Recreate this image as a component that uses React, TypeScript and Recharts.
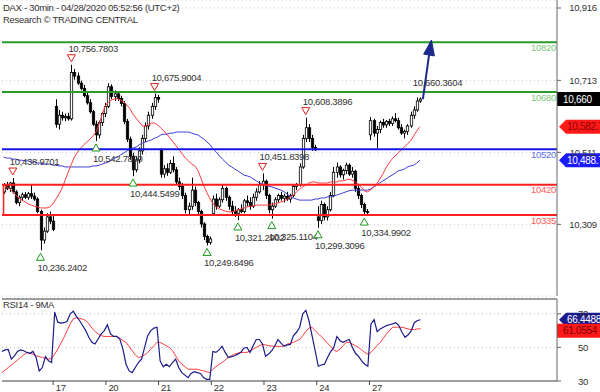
import {
  Bar,
  CartesianGrid,
  ComposedChart,
  Line,
  ReferenceDot,
  ReferenceLine,
  XAxis,
  YAxis,
} from 'recharts'

const FONT = '"Liberation Sans", Arial, sans-serif'
const CHART_W = 600
const AXIS_W = 43
const LEFT = 2
const SLOTS = 180
const BAND = (CHART_W - LEFT - AXIS_W) / SLOTS
const BARS_PER_DAY = 17

// sessions (17 half-hour bars each)
const dayLabels = ['16', '17', '20', '21', '22', '23', '24', '27']

const opens = [
  10400, 10418, 10410, 10425, 10400, 10370, 10385, 10392, 10385, 10395, 10388, 10380, 10345, 10265, 10290, 10330, 10318,
  10640, 10590, 10615, 10608, 10612, 10605, 10735, 10725, 10705, 10690, 10670, 10650, 10625, 10590, 10560, 10595, 10620,
  10640, 10695, 10668, 10675, 10662, 10648, 10598, 10548, 10500, 10462, 10490, 10515, 10550, 10585, 10615, 10640, 10665,
  10518, 10450, 10465, 10455, 10480, 10462, 10428, 10415, 10390, 10350, 10360, 10405, 10370, 10345, 10310, 10275, 10258,
  10340, 10380, 10360, 10378, 10410, 10385, 10360, 10345, 10340, 10350, 10345, 10375, 10370, 10360, 10385, 10400, 10420,
  10430, 10390, 10350, 10360, 10378, 10390, 10382, 10388, 10380, 10390, 10415, 10420, 10470, 10550, 10580, 10550, 10525,
  10330, 10320, 10365, 10330, 10350, 10390, 10455, 10470, 10448, 10460, 10475, 10450, 10458, 10410, 10390, 10365, 10345,
  10560, 10600, 10565, 10575, 10595, 10588, 10598, 10592, 10605, 10600, 10580, 10565, 10570, 10585, 10615, 10630, 10655,
]
const highs = [
  10425, 10428, 10428, 10438.97, 10405, 10390, 10398, 10400, 10400, 10420, 10398, 10385, 10350, 10300, 10340, 10345, 10335,
  10660, 10630, 10625, 10620, 10622, 10756.78, 10745, 10735, 10712, 10700, 10680, 10660, 10630, 10600, 10600, 10625, 10650,
  10705, 10702, 10685, 10680, 10670, 10655, 10605, 10555, 10510, 10500, 10525, 10560, 10595, 10625, 10650, 10675.9, 10672,
  10522, 10475, 10480, 10490, 10500, 10470, 10440, 10425, 10398, 10370, 10440, 10415, 10375, 10350, 10315, 10280, 10275,
  10390, 10395, 10385, 10420, 10415, 10390, 10375, 10360, 10355, 10365, 10380, 10390, 10385, 10395, 10410, 10430, 10451.84,
  10435, 10395, 10370, 10385, 10395, 10400, 10395, 10400, 10395, 10420, 10425, 10480, 10560, 10608.39, 10590, 10560, 10532,
  10360, 10375, 10370, 10360, 10400, 10470, 10482, 10475, 10465, 10482, 10480, 10470, 10462, 10420, 10395, 10370, 10352,
  10610, 10605, 10585, 10600, 10605, 10602, 10605, 10612, 10621, 10608, 10590, 10575, 10590, 10625, 10640, 10665, 10665,
]
const lows = [
  10395, 10405, 10400, 10395, 10365, 10360, 10375, 10380, 10378, 10380, 10375, 10340, 10236.24, 10255, 10285, 10310, 10290,
  10580, 10575, 10600, 10598, 10600, 10600, 10715, 10700, 10685, 10665, 10645, 10620, 10585, 10542.78, 10550, 10585, 10610,
  10635, 10660, 10655, 10655, 10640, 10590, 10540, 10490, 10444.55, 10455, 10480, 10505, 10540, 10575, 10605, 10630, 10650,
  10440, 10440, 10445, 10450, 10455, 10420, 10405, 10380, 10340, 10335, 10350, 10360, 10335, 10300, 10265, 10249.85, 10252,
  10335, 10350, 10355, 10370, 10375, 10350, 10335, 10330, 10321.29, 10340, 10340, 10360, 10350, 10355, 10375, 10395, 10405,
  10380, 10340, 10325.11, 10355, 10370, 10375, 10370, 10375, 10370, 10385, 10405, 10415, 10465, 10540, 10540, 10515, 10515,
  10299.31, 10310, 10320, 10320, 10345, 10385, 10440, 10440, 10435, 10450, 10445, 10440, 10400, 10380, 10355, 10334.99, 10338,
  10545, 10555, 10523, 10565, 10580, 10580, 10585, 10585, 10595, 10575, 10560, 10550, 10560, 10580, 10605, 10625, 10650,
]
const closes = [
  10418, 10410, 10425, 10400, 10370, 10385, 10392, 10385, 10395, 10388, 10380, 10345, 10265, 10290, 10330, 10318, 10295,
  10590, 10615, 10608, 10612, 10605, 10735, 10725, 10705, 10690, 10670, 10650, 10625, 10590, 10560, 10595, 10620, 10640,
  10695, 10668, 10675, 10662, 10648, 10598, 10548, 10500, 10462, 10490, 10515, 10550, 10585, 10615, 10640, 10665, 10660,
  10450, 10465, 10455, 10480, 10462, 10428, 10415, 10390, 10350, 10360, 10405, 10370, 10345, 10310, 10275, 10258, 10268,
  10380, 10360, 10378, 10410, 10385, 10360, 10345, 10340, 10350, 10345, 10375, 10370, 10360, 10385, 10400, 10420, 10430,
  10390, 10350, 10360, 10378, 10390, 10382, 10388, 10380, 10390, 10415, 10420, 10470, 10550, 10580, 10550, 10525, 10518,
  10320, 10365, 10330, 10350, 10390, 10455, 10470, 10448, 10460, 10475, 10450, 10458, 10410, 10390, 10365, 10345, 10342,
  10600, 10565, 10575, 10595, 10588, 10598, 10592, 10605, 10600, 10580, 10565, 10570, 10585, 10615, 10630, 10655, 10660.36,
]
// short moving average (red)
const maRed = [
  10419, 10414, 10408, 10400, 10391, 10383, 10377, 10372, 10366, 10363, 10360, 10358, 10355, 10355, 10355, 10358, 10366,
  10380, 10394, 10411, 10433, 10456, 10478, 10498, 10512, 10523, 10532, 10540, 10548, 10557, 10568, 10590, 10618, 10641,
  10652, 10658, 10661, 10661, 10658, 10652, 10644, 10633, 10618, 10607, 10596, 10585, 10585, 10590, 10593, 10593, 10588,
  10579, 10571, 10562, 10551, 10540, 10529, 10518, 10506, 10495, 10487, 10478, 10473, 10461, 10439, 10416, 10397, 10380,
  10366, 10358, 10352, 10349, 10346, 10344, 10344, 10346, 10349, 10352, 10355, 10358, 10360, 10360, 10363, 10363, 10363,
  10363, 10363, 10366, 10366, 10369, 10372, 10374, 10380, 10386, 10391, 10400, 10408, 10414, 10419, 10425, 10428, 10428,
  10425, 10425, 10425, 10425, 10428, 10428, 10428, 10431, 10431, 10433, 10436, 10433, 10428, 10422, 10414, 10403, 10400,
  10405, 10414, 10422, 10436, 10450, 10467, 10481, 10492, 10501, 10509, 10518, 10526, 10535, 10543, 10557, 10571, 10582.7,
]
// long moving average (blue)
const maBlue = [
  10498, 10495, 10495, 10492, 10492, 10489, 10489, 10487, 10487, 10484, 10484, 10481, 10481, 10478, 10478, 10478, 10475,
  10475, 10473, 10473, 10470, 10470, 10470, 10470, 10470, 10470, 10470, 10470, 10470, 10473, 10473, 10475, 10478, 10481,
  10484, 10489, 10495, 10498, 10504, 10509, 10515, 10520, 10523, 10526, 10532, 10537, 10540, 10543, 10546, 10551, 10554,
  10560, 10562, 10562, 10565, 10565, 10568, 10568, 10568, 10568, 10568, 10565, 10562, 10560, 10554, 10548, 10540, 10532,
  10520, 10512, 10501, 10492, 10484, 10475, 10470, 10464, 10459, 10453, 10447, 10445, 10442, 10436, 10431, 10425, 10422,
  10419, 10416, 10414, 10411, 10408, 10405, 10400, 10394, 10388, 10383, 10380, 10377, 10377, 10377, 10377, 10377, 10380,
  10380, 10383, 10383, 10386, 10386, 10388, 10391, 10394, 10397, 10400, 10403, 10405, 10405, 10405, 10405, 10405, 10405,
  10408, 10414, 10419, 10425, 10431, 10436, 10442, 10447, 10453, 10459, 10461, 10464, 10470, 10473, 10475, 10481, 10488.7,
]
const rsi14 = [
  47.5, 48.5, 48.8, 43, 45, 47.6, 48.5, 48, 47, 46.5, 47.6, 44, 36, 38, 44.5, 42, 41,
  71, 65, 64.5, 64.7, 65.5, 70, 71.5, 68.5, 66, 63, 60, 56, 53, 52, 55, 58, 60,
  63.5, 58, 56.5, 56.5, 55, 49, 40, 36, 35, 38, 41, 43, 50, 57, 60, 61.5, 62,
  42, 38.5, 40, 38.5, 41, 43, 38, 35, 33.5, 32, 34.5, 35.5, 35, 34.5, 32, 31, 31,
  47.6, 47, 48.5, 50.6, 47, 44, 44.5, 45, 46, 47, 49.5, 50, 47, 51, 54.7, 54.7, 52,
  44.7, 46, 48, 51, 54.7, 52.5, 50.6, 51.5, 51.8, 57, 59, 62, 70, 72, 66, 57, 48,
  38.8, 39.5, 40, 44, 47.5, 50, 56.5, 54, 53, 54, 54.7, 50, 46.5, 44.7, 42, 40, 38.8,
  64, 66.5, 59.4, 61, 62, 63, 63.5, 64, 64.7, 63, 59, 56, 57.5, 60, 64.7, 66, 66.4488,
]
const rsiMa9 = [
  35, 36.5, 38, 39.5, 41, 42.5, 44, 45.5, 47, 46.5, 46, 45, 44.5, 44, 43.5, 43, 43.5,
  46, 49, 52.5, 56, 60, 64, 67, 67.6, 67.3, 66.8, 66, 64, 61.5, 59.5, 58, 57, 56.5,
  56.5, 56.5, 56.5, 56.5, 55.5, 54, 53, 50.5, 48, 45.5, 44, 44.5, 45.5, 47, 49, 51, 53,
  53, 52, 51, 50, 48, 45, 42, 40, 38.5, 37, 37, 37, 37, 36.5, 36, 35.5, 35,
  37, 38.5, 40, 41, 42.5, 44, 45, 46, 46.5, 47, 47, 47, 48, 49, 50, 51, 51.8,
  51.5, 51, 50.8, 50.6, 50.6, 50.6, 51, 52, 52.5, 53, 54, 54.7, 57, 59.5, 61.5, 62, 60,
  58, 56.5, 54.5, 52.5, 50.6, 48.5, 47.6, 49, 51, 53, 53, 52, 51, 50, 48.5, 47, 46,
  47, 49, 51, 53, 55.5, 58, 60, 62, 62, 62, 62, 61.5, 61, 60.6, 60.6, 61, 61.0554,
]

const priceTicks = [10916, 10713, 10511, 10309]
const rsiTicks = [30, 50, 70]
const greenLevels = [10820, 10680]
const blueLevels = [10520]
const redLevels = [10420, 10335]

const peakIdx = [3, 22, 49, 84, 98]
const peakVal = [10438.9701, 10756.7803, 10675.9004, 10451.8398, 10608.3896]
const troughIdx = [12, 30, 42, 66, 76, 87, 102, 117]
const troughVal = [10236.2402, 10542.78, 10444.5499, 10249.8496, 10321.2902, 10325.1104, 10299.3096, 10334.9902]

const lastPrice = 10660.3604
const targetPrice = 10784

const n = closes.length
const rows = Array.from({ length: SLOTS }, (_, i) =>
  i < n
    ? {
        i,
        o: opens[i],
        h: highs[i],
        l: lows[i],
        c: closes[i],
        range: [lows[i], highs[i]],
        maRed: maRed[i],
        maBlue: maBlue[i],
        rsi: rsi14[i],
        rsiMa: rsiMa9[i],
      }
    : { i },
)
const dayStarts = dayLabels.slice(1).map((_, k) => (k + 1) * BARS_PER_DAY)

const fmt4 = (v: number) => v.toLocaleString('en-US', { minimumFractionDigits: 4, maximumFractionDigits: 4 })
const txt = { fontFamily: FONT, fontSize: 9.5, letterSpacing: '-0.3px' }

function Candle(props: any) {
  const { x, y, width, height, payload } = props
  if (!payload || payload.o == null || !isFinite(y)) return <g />
  const { o, h, l, c } = payload
  const cx = Math.round(x + width / 2) + 0.5
  const k = height / (h - l)
  const yO = y + (h - o) * k
  const yC = y + (h - c) * k
  const top = Math.min(yO, yC)
  const bh = Math.max(1, Math.abs(yC - yO))
  const up = c >= o
  return (
    <g>
      <line x1={cx} x2={cx} y1={y} y2={y + height} stroke="#000" strokeWidth={1} />
      <rect x={cx - 1.2} y={top} width={2.4} height={bh} fill={up ? '#fff' : '#000'} stroke="#000" strokeWidth={0.8} />
    </g>
  )
}

function PriceTick({ x, y, payload }: any) {
  return (
    <text x={x + 20} y={y + 3.5} textAnchor="middle" fill="#333" style={txt}>
      {Number(payload.value).toLocaleString('en-US')}
    </text>
  )
}

function DayTick({ x, y, payload }: any) {
  const bx = x - BAND / 2
  const label = dayLabels[payload.value / BARS_PER_DAY]
  return (
    <g>
      <line x1={bx} x2={bx} y1={y} y2={y + 4} stroke="#444" />
      <text x={bx + 2.5} y={y + 9.5} fill="#333" style={txt}>
        {label}
      </text>
    </g>
  )
}

function Peak({ cx, cy, text }: any) {
  return (
    <g>
      <polygon points={`${cx - 4},${cy - 10} ${cx + 4},${cy - 10} ${cx},${cy - 3}`} fill="#fff" stroke="#e02020" />
      <text x={cx - 3} y={cy - 13} fill="#333" style={txt}>
        {text}
      </text>
    </g>
  )
}

function Trough({ cx, cy, text }: any) {
  return (
    <g>
      <polygon points={`${cx},${cy + 3} ${cx - 4},${cy + 10} ${cx + 4},${cy + 10}`} fill="#fff" stroke="#1a9a1a" />
      <text x={cx - 3} y={cy + 21} fill="#333" style={txt}>
        {text}
      </text>
    </g>
  )
}

function ArrowHead({ cx, cy }: any) {
  return (
    <polygon
      points={`${cx + 2.4},${cy - 15} ${cx - 5.4},${cy - 0.9} ${cx + 5.4},${cy + 0.9}`}
      fill="#1c2a8c"
      stroke="#1c2a8c"
    />
  )
}

function LevelLabel({ viewBox, text, color }: any) {
  if (!viewBox) return null
  return (
    <text x={viewBox.x + viewBox.width - 1} y={viewBox.y + 8.5} textAnchor="end" fill={color} style={txt}>
      {text}
    </text>
  )
}

function SideTag({ viewBox, text, bg, fg, arrow, dy = 0 }: any) {
  if (!viewBox) return null
  const x0 = viewBox.x + viewBox.width
  const y0 = viewBox.y + dy
  const hh = 7
  const d = arrow
    ? `M${x0 + 2} ${y0} L${x0 + 9} ${y0 - hh} L${CHART_W} ${y0 - hh} L${CHART_W} ${y0 + hh} L${x0 + 9} ${y0 + hh} Z`
    : `M${x0} ${y0 - hh} H${CHART_W} V${y0 + hh} H${x0} Z`
  return (
    <g>
      <path d={d} fill={bg} />
      <text x={x0 + (arrow ? 10 : 6)} y={y0 + 3.5} fill={fg} style={{ ...txt, fontSize: 10 }}>
        {text}
      </text>
    </g>
  )
}

function MainChart() {
  return (
    <ComposedChart width={CHART_W} height={298} data={rows} margin={{ top: 0, right: 0, bottom: 2, left: LEFT }}>
      <CartesianGrid vertical={false} stroke="#c4c4c4" strokeDasharray="1 3" />
      <XAxis dataKey="i" type="category" hide />
      <YAxis
        orientation="right"
        width={AXIS_W}
        domain={[10108, 10938.4]}
        allowDataOverflow
        ticks={priceTicks}
        interval={0}
        tick={PriceTick}
        tickSize={4}
        tickMargin={2}
        axisLine={{ stroke: '#666' }}
        tickLine={{ stroke: '#666' }}
      />
      <Bar dataKey="range" shape={Candle} barSize={3} isAnimationActive={false} />
      <Line dataKey="maBlue" stroke="#3b3bd6" strokeWidth={1} dot={false} isAnimationActive={false} />
      <Line dataKey="maRed" stroke="#ff3b3b" strokeWidth={1} dot={false} isAnimationActive={false} />
      {greenLevels.map((v) => (
        <ReferenceLine
          key={v}
          y={v}
          stroke="#2b9a2b"
          strokeWidth={2}
          label={{ content: (p: any) => <LevelLabel {...p} text={String(v)} color="#7cc77c" /> }}
        />
      ))}
      {blueLevels.map((v) => (
        <ReferenceLine
          key={v}
          y={v}
          stroke="#1414e6"
          strokeWidth={2}
          label={{ content: (p: any) => <LevelLabel {...p} text={String(v)} color="#5a6ee6" /> }}
        />
      ))}
      {redLevels.map((v) => (
        <ReferenceLine
          key={v}
          y={v}
          stroke="#ff1f1f"
          strokeWidth={2}
          label={{ content: (p: any) => <LevelLabel {...p} text={String(v)} color="#ff5a5a" /> }}
        />
      ))}
      <ReferenceLine
        segment={[
          { x: 0, y: redLevels[0] },
          { x: 0, y: redLevels[1] },
        ]}
        stroke="#ff1f1f"
        strokeWidth={1.5}
      />
      {peakIdx.map((idx, k) => (
        <ReferenceDot
          key={`p${idx}`}
          x={idx}
          y={peakVal[k]}
          r={0}
          shape={(p: any) => <Peak {...p} text={fmt4(peakVal[k])} />}
        />
      ))}
      {troughIdx.map((idx, k) => (
        <ReferenceDot
          key={`t${idx}`}
          x={idx}
          y={troughVal[k]}
          r={0}
          shape={(p: any) => <Trough {...p} text={fmt4(troughVal[k])} />}
        />
      ))}
      <ReferenceDot
        x={n - 1}
        y={lastPrice}
        r={0}
        shape={(p: any) => (
          <text x={p.cx - 7} y={p.cy - 13} fill="#333" style={txt}>
            {fmt4(lastPrice)}
          </text>
        )}
      />
      <ReferenceLine
        segment={[
          { x: n, y: lastPrice },
          { x: n + 2, y: targetPrice },
        ]}
        stroke="#1c2a8c"
        strokeWidth={2}
      />
      <ReferenceDot x={n + 2} y={targetPrice} r={0} shape={ArrowHead} />
      <ReferenceLine
        y={lastPrice}
        stroke="none"
        label={{
          content: (p: any) => (
            <SideTag {...p} text={Math.round(lastPrice).toLocaleString('en-US')} bg="#000" fg="#fff" />
          ),
        }}
      />
      <ReferenceLine
        y={maRed[n - 1]}
        stroke="none"
        label={{
          content: (p: any) => (
            <SideTag {...p} text={maRed[n - 1].toLocaleString('en-US')} bg="#ff1a1a" fg="#8a0000" arrow />
          ),
        }}
      />
      <ReferenceLine
        y={maBlue[n - 1]}
        stroke="none"
        label={{
          content: (p: any) => (
            <SideTag {...p} text={maBlue[n - 1].toLocaleString('en-US')} bg="#1a1aff" fg="#fff" arrow />
          ),
        }}
      />
    </ComposedChart>
  )
}

function RsiChart() {
  return (
    <ComposedChart width={CHART_W} height={94} data={rows} margin={{ top: 1, right: 0, bottom: 0, left: LEFT }}>
      <CartesianGrid vertical={false} stroke="#c4c4c4" strokeDasharray="1 3" />
      <XAxis
        dataKey="i"
        type="category"
        height={11}
        ticks={dayStarts}
        interval={0}
        tick={DayTick}
        tickLine={false}
        tickSize={0}
        tickMargin={0}
        axisLine={{ stroke: '#444' }}
      />
      <YAxis
        orientation="right"
        width={AXIS_W}
        domain={[30, 78.8]}
        allowDataOverflow
        ticks={rsiTicks}
        interval={0}
        tick={PriceTick}
        tickSize={4}
        tickMargin={2}
        axisLine={{ stroke: '#666' }}
        tickLine={{ stroke: '#666' }}
      />
      <ReferenceLine y={78.8} stroke="#444" />
      <Line dataKey="rsiMa" stroke="#ff3b3b" strokeWidth={1} dot={false} isAnimationActive={false} />
      <Line dataKey="rsi" stroke="#1b1b8a" strokeWidth={1.2} dot={false} isAnimationActive={false} />
      <ReferenceLine
        y={rsi14[n - 1]}
        stroke="none"
        label={{
          content: (p: any) => <SideTag {...p} text={rsi14[n - 1].toFixed(4)} bg="#1b1b8a" fg="#fff" arrow />,
        }}
      />
      <ReferenceLine
        y={rsiMa9[n - 1]}
        stroke="none"
        label={{
          content: (p: any) => (
            <SideTag {...p} text={rsiMa9[n - 1].toFixed(4)} bg="#ff1a1a" fg="#7a0000" dy={2} />
          ),
        }}
      />
    </ComposedChart>
  )
}

export default function App() {
  return (
    <div
      style={{
        position: 'absolute',
        left: 0,
        top: 0,
        width: 600,
        height: 392,
        background: '#fff',
        overflow: 'hidden',
        fontFamily: FONT,
      }}
    >
      <MainChart />
      <RsiChart />
      <div style={{ position: 'absolute', left: 3, top: 3, fontSize: 9.5, lineHeight: '10px', color: '#333', letterSpacing: '-0.3px' }}>
        DAX - 30min - 04/28/2020 05:52:56 (UTC+2)
      </div>
      <div style={{ position: 'absolute', left: 3, top: 15, fontSize: 9.5, lineHeight: '10px', color: '#333', letterSpacing: '-0.3px' }}>
        Research © TRADING CENTRAL
      </div>
      <div style={{ position: 'absolute', left: 3, top: 300, fontSize: 9.5, lineHeight: '10px', color: '#333', letterSpacing: '-0.3px' }}>
        RSI14 - 9MA
      </div>
    </div>
  )
}
